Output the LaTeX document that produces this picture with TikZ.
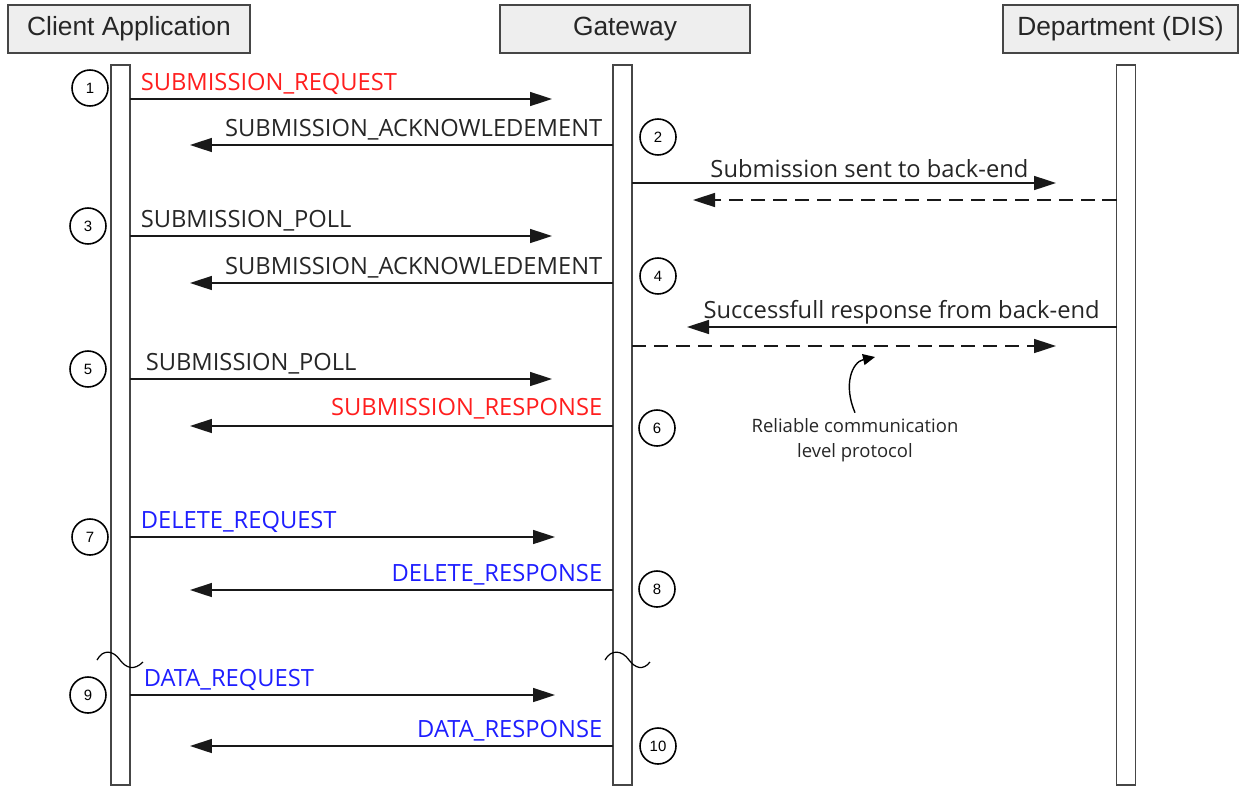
\documentclass[tikz,border=0pt]{standalone}
\usepackage{fontspec}
\setmainfont{Open Sans}
\newfontfamily\headfont{Liberation Sans}
\usetikzlibrary{arrows.meta}

\definecolor{msgred}{RGB}{255,30,30}
\definecolor{msgblue}{RGB}{30,30,255}
\definecolor{boxgray}{RGB}{238,238,238}
\definecolor{linegray}{RGB}{70,70,70}

\begin{document}
\begin{tikzpicture}[x=0.02cm, y=-0.02cm, line width=0.9pt,
        head/.style={draw=linegray, fill=boxgray, line width=1.3pt, minimum height=0.96cm, inner sep=0pt,
            text=black!85, font=\headfont\fontsize{15}{18}\selectfont},
        bar/.style={draw=linegray, fill=white, line width=1.1pt, minimum width=0.38cm, minimum height=14.4cm,
            inner sep=0pt, outer sep=0pt},
        num/.style={draw, circle, line width=0.9pt, minimum size=0.72cm, inner sep=0pt,
            font=\headfont\fontsize{8.5}{9}\selectfont},
        msg/.style={draw=black!90, -{Triangle[length=4.4mm, width=2.8mm]}},
        back/.style={msg, dash pattern=on 8pt off 4.5pt},
        txt/.style={inner sep=0pt, text=black!85, font=\fontsize{13.5}{15}\selectfont},
        rlab/.style={txt, at start, anchor=base west, xshift=2mm, yshift=1.7mm},
        llab/.style={txt, at start, anchor=base east, xshift=-2mm, yshift=1.7mm}]
    \useasboundingbox (0, 0) rectangle (1240, 788);

    % participants
    \node[head, minimum width=4.84cm] (client) at (129, 29) {Client Application};
    \node[head, minimum width=5cm] (gate) at (625, 29) {Gateway};
    \node[head, minimum width=4.7cm] (dept) at (1120.5, 29) {Department (DIS)};
    \node[bar] (cbar) at (120.5, 425) {};
    \node[bar] (gbar) at (622.5, 425) {};
    \node[bar] (dbar) at (1126, 425) {};

    % step numbers
    \foreach \n/\x/\y in {1/90/88, 2/658/137, 3/88/226, 4/658/276, 5/88/369,
            6/657/428, 7/90/537, 8/657/589, 9/88/695, 10/658/746}
        \node[num] (n\n) at (\x, \y) {\n};

    % message ends
    \coordinate (e1) at (552, 99);
    \coordinate (e2) at (190, 145);
    \coordinate (e3) at (1056, 183);
    \coordinate (e4) at (693, 200);
    \coordinate (e5) at (552, 236);
    \coordinate (e6) at (190, 283);
    \coordinate (e7) at (687, 327);
    \coordinate (e8) at (1056, 346);
    \coordinate (e9) at (552, 379);
    \coordinate (e10) at (190, 426);
    \coordinate (e11) at (555, 537);
    \coordinate (e12) at (190, 590);
    \coordinate (e13) at (555, 695);
    \coordinate (e14) at (190, 746);

    \path[msg] (cbar.east |- e1) -- node[rlab, text=msgred] {SUBMISSION\_REQUEST} (e1);
    \path[msg] (gbar.west |- e2) -- node[llab] {SUBMISSION\_ACKNOWLEDEMENT} (e2);
    \path[msg] (gbar.east |- e3) -- node[txt, pos=0.56, anchor=base, yshift=1.2mm] {Submission sent to back-end} (e3);
    \path[back] (dbar.west |- e4) -- (e4);
    \path[msg] (cbar.east |- e5) -- node[rlab] {SUBMISSION\_POLL} (e5);
    \path[msg] (gbar.west |- e6) -- node[llab] {SUBMISSION\_ACKNOWLEDEMENT} (e6);
    \path[msg] (dbar.west |- e7) -- node[llab, xshift=-1.2mm] {Successfull response from back-end} (e7);
    \path[back] (gbar.east |- e8) -- (e8);
    \path[msg] (cbar.east |- e9) -- node[rlab, xshift=1mm] {SUBMISSION\_POLL} (e9);
    \path[msg] (gbar.west |- e10) -- node[llab, text=msgred, yshift=0.5mm] {SUBMISSION\_RESPONSE} (e10);
    \path[msg] (cbar.east |- e11) -- node[rlab, text=msgblue] {DELETE\_REQUEST} (e11);
    \path[msg] (gbar.west |- e12) -- node[llab, text=msgblue] {DELETE\_RESPONSE} (e12);
    \path[msg] (cbar.east |- e13) -- node[rlab, text=msgblue, xshift=0.6mm] {DATA\_REQUEST} (e13);
    \path[msg] (gbar.west |- e14) -- node[llab, text=msgblue] {DATA\_RESPONSE} (e14);

    % note on the dashed reply
    \node[txt, align=center, font=\fontsize{10.5}{14}\selectfont] (proto) at (855, 440)
        {Reliable communication\\level protocol};
    \coordinate (tip) at (875, 357);
    \path[draw, line width=0.8pt, -{Triangle[length=2.4mm, width=2.2mm]}]
        ([yshift=1mm]proto.north) .. controls +(-12, -28) and +(-23, 5) .. (tip);

    % breaks in the lifelines
    \path[draw, line width=0.7pt] (97, 660) .. controls (103, 649) and (113, 650) .. (120, 660)
        .. controls (126, 668) and (134, 671) .. (143, 662);
    \path[draw, line width=0.7pt] (605, 660) .. controls (611, 649) and (622, 650) .. (629, 660)
        .. controls (635, 668) and (643, 671) .. (650, 662);
\end{tikzpicture}
\end{document}
